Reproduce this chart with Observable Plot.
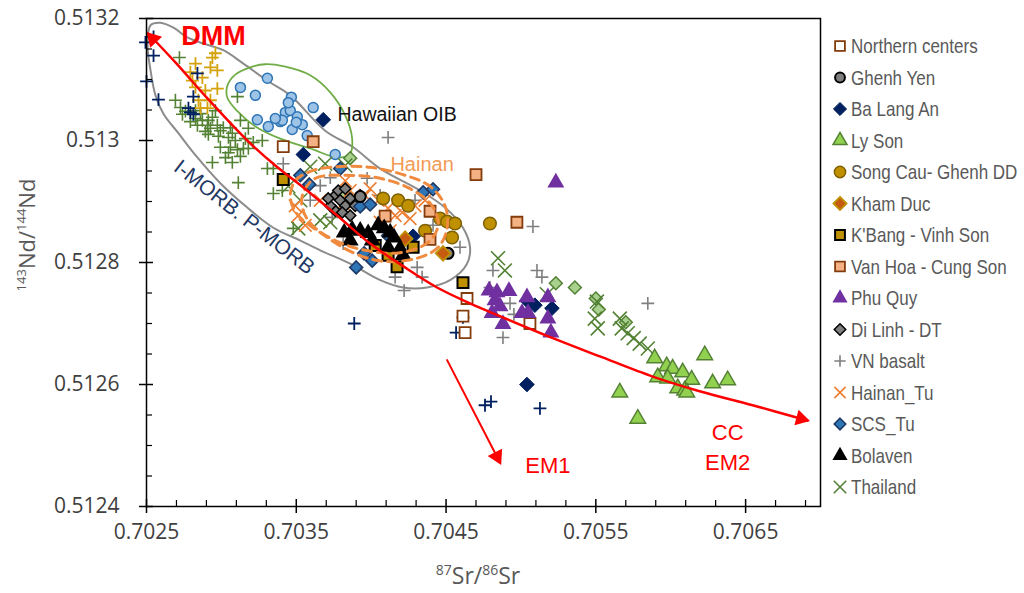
<!DOCTYPE html>
<html><head><meta charset="utf-8">
<script src="https://cdn.jsdelivr.net/npm/d3@7"></script>
<script src="https://cdn.jsdelivr.net/npm/@observablehq/plot@0.6"></script>
<style>body{margin:0;background:#fff}</style>
</head><body><div id="chart"></div>
<script>
// ---------- DATA ----------
const xTicks = [0.7025, 0.7035, 0.7045, 0.7055, 0.7065];
const yTicks = [0.5124, 0.5126, 0.5128, 0.5130, 0.5132];

// Unlabeled reference fields
const hawaiiSr = [0.703127,0.703307,0.703227,0.703467,0.703613,0.70324,0.703313,0.703393,0.703427,0.70346,0.703507,0.70354,0.703473,0.703573,0.70376,0.703407,0.70336,0.703447,0.7035];
const hawaiiNd = [0.513087,0.513102,0.513074,0.513071,0.513054,0.513034,0.513023,0.513031,0.513046,0.513049,0.513039,0.513026,0.513018,0.513008,0.512977,0.513033,0.513036,0.513062,0.51303];
const morbGoldSr = [0.70296,0.702827,0.702927,0.702973,0.702793,0.702873,0.702827,0.702893,0.702973,0.702847,0.702927,0.70286,0.702907,0.702807,0.70294];
const morbGoldNd = [0.513143,0.513126,0.51312,0.513115,0.513112,0.513103,0.513087,0.513082,0.513085,0.513066,0.513066,0.513053,0.513053,0.513098,0.513136];
const morbNavySr = [0.702547,0.702493,0.702547,0.7025,0.70258,0.70284,0.702813,0.702793,0.702813,0.70278,0.703887,0.704613,0.704567,0.70476,0.7048,0.705127];
const morbNavyNd = [0.51317,0.513161,0.513139,0.513097,0.513067,0.51311,0.513072,0.513046,0.513043,0.513053,0.5127,0.51271,0.512685,0.512566,0.512572,0.512561];
const morbGreenSr = [0.70272,0.703107,0.702693,0.702727,0.70276,0.70274,0.702827,0.702793,0.702873,0.702913,0.70294,0.70284,0.702907,0.702973,0.703013,0.70306,0.703127,0.70318,0.702893,0.702927,0.702993,0.703073,0.702913,0.70298,0.703047,0.70316,0.703213,0.70306,0.703107,0.702993,0.703147,0.703047,0.703027,0.70294,0.703073,0.70318,0.703307,0.703347,0.703113,0.703347,0.703407,0.70348,0.70286,0.70296,0.702827,0.703093,0.703273,0.703127];
const morbGreenNd = [0.513136,0.513072,0.513066,0.513054,0.513048,0.513043,0.513036,0.513031,0.513033,0.513033,0.513038,0.513025,0.513025,0.513025,0.513021,0.513021,0.513033,0.51302,0.513015,0.51302,0.513016,0.513012,0.51301,0.513007,0.513005,0.513003,0.512997,0.512989,0.512985,0.512989,0.512987,0.51298,0.512972,0.512964,0.512964,0.512987,0.512954,0.512954,0.512931,0.512913,0.512918,0.512856,0.513044,0.513049,0.513049,0.513,0.513,0.512974];
const lgDiamondSr = [0.703807,0.70386,0.705233,0.70536,0.7055,0.70552,0.7057];
const lgDiamondNd = [0.512915,0.512971,0.512766,0.512759,0.512741,0.512723,0.512702];

// Legend series
const legendNames = ["Northern centers","Ghenh Yen","Ba Lang An","Ly Son","Song Cau- Ghenh DD","Kham Duc","K'Bang - Vinh Son","Van Hoa - Cung Son","Phu Quy","Di Linh - DT","VN basalt","Hainan_Tu","SCS_Tu","Bolaven","Thailand"];
const northernSr = [0.703413,0.70464,0.704613,0.704627,0.70506];
const northernNd = [0.51299,0.512741,0.512712,0.512685,0.5127];
const ghenhYenSr = [0.704513,0.703927];
const ghenhYenNd = [0.512815,0.512908];
const baLangAnSr = [0.70368,0.703547,0.70504,0.705093,0.705207,0.70504,0.70428];
const baLangAnNd = [0.513034,0.512977,0.512738,0.51273,0.512725,0.5126,0.512843];
const lySonSr = [0.705893,0.705973,0.706013,0.70608,0.706227,0.705913,0.70598,0.70614,0.70628,0.70638,0.70566,0.706047,0.706093,0.706107,0.70578];
const lySonNd = [0.512643,0.51263,0.512626,0.51262,0.512648,0.512612,0.51261,0.512608,0.512602,0.512607,0.512587,0.512594,0.51259,0.512587,0.512544];
const songCauSr = [0.70408,0.70418,0.704247,0.70446,0.704507,0.70456,0.70454,0.704793,0.70436];
const songCauNd = [0.512905,0.512902,0.512893,0.512872,0.512867,0.512864,0.512841,0.512864,0.512852];
const khamDucSr = [0.70448,0.704227];
const khamDucNd = [0.512815,0.512839];
const kbangSr = [0.703413,0.70428,0.704113,0.704027,0.704173,0.704613];
const kbangNd = [0.512936,0.512825,0.512812,0.512828,0.512793,0.512767];
const vanHoaSr = [0.703613,0.7047,0.704973,0.704393,0.704393,0.704093];
const vanHoaNd = [0.512998,0.512944,0.512866,0.512884,0.512838,0.512876];
const phuQuySr = [0.705233,0.704787,0.70484,0.70492,0.704827,0.70486,0.704807,0.70488,0.70504,0.705047,0.70518,0.70518,0.7052,0.705007];
const phuQuyNd = [0.512931,0.512754,0.512751,0.512753,0.512738,0.512728,0.512717,0.512699,0.512743,0.512717,0.512743,0.512708,0.512685,0.512717];
const diLinhSr = [0.70376,0.703793,0.703827,0.70376,0.70386,0.703893,0.703807,0.703727,0.703927,0.70386,0.70378,0.703827,0.703713];
const diLinhNd = [0.51291,0.512902,0.512893,0.512885,0.512905,0.512893,0.512882,0.512893,0.51291,0.512877,0.512918,0.512921,0.512905];
const vnBasaltSr = [0.704113,0.703413,0.70366,0.70374,0.703973,0.704293,0.704413,0.704593,0.704307,0.70434,0.70422,0.70416,0.704813,0.704793,0.704927,0.704953,0.70488,0.70508,0.705107,0.70514,0.705847,0.703813,0.703727,0.703593,0.70406];
const vnBasaltNd = [0.513005,0.512962,0.512926,0.512874,0.512938,0.512902,0.512861,0.512825,0.512792,0.512776,0.512754,0.512776,0.512787,0.512759,0.512733,0.512715,0.512677,0.512859,0.512787,0.512776,0.512733,0.512831,0.512939,0.512902,0.51291];
const hainanSr = [0.703493,0.703513,0.70356,0.703827,0.70386,0.703993,0.704047,0.704113,0.70416,0.704207,0.70426,0.704293,0.704127,0.70406,0.70396,0.703813,0.70436,0.70366];
const hainanNd = [0.512893,0.512877,0.512861,0.512934,0.512918,0.512921,0.512902,0.512889,0.512877,0.512882,0.512872,0.512893,0.512852,0.512866,0.51291,0.512897,0.512902,0.512902];
const scsSr = [0.703587,0.703793,0.703927,0.703993,0.704347,0.704413,0.703953,0.704007,0.7039,0.704113,0.703527];
const scsNd = [0.512928,0.512954,0.512892,0.512895,0.512915,0.51292,0.512815,0.512803,0.512792,0.512844,0.512943];
const bolavenSr = [0.70382,0.703873,0.703927,0.70398,0.704047,0.704087,0.704127,0.704153,0.704193,0.704213,0.704113,0.704007,0.70386];
const bolavenNd = [0.512849,0.512854,0.512852,0.512848,0.512861,0.512856,0.512849,0.512841,0.512823,0.512812,0.512825,0.512836,0.512836];
const thailandSr = [0.703593,0.703693,0.703827,0.703527,0.70366,0.703513,0.703727,0.703447,0.704847,0.704893,0.705173,0.705493,0.705513,0.70566,0.705673,0.705713,0.705753,0.705793,0.705847,0.705507];
const thailandNd = [0.512957,0.512962,0.512959,0.512902,0.512869,0.512856,0.512866,0.512925,0.512807,0.512787,0.512748,0.512708,0.512692,0.512708,0.512692,0.512684,0.512676,0.512667,0.512659,0.512736];

// Field outlines & mixing curves
const morbFieldSr = [0.702527,0.702593,0.70268,0.702773,0.70288,0.703013,0.703147,0.703307,0.70346,0.703693,0.70388,0.70406,0.704327,0.704493,0.704613,0.70466,0.70464,0.704527,0.704373,0.704213,0.70406,0.70386,0.70366,0.703527,0.703347,0.703173,0.702993,0.702827,0.702713,0.702613,0.70256,0.702527,0.702507];
const morbFieldNd = [0.513189,0.513193,0.513185,0.513169,0.513159,0.513148,0.513126,0.513098,0.513074,0.513016,0.512989,0.512954,0.512918,0.51289,0.512857,0.512825,0.512798,0.512771,0.512759,0.512759,0.512771,0.512798,0.51282,0.512836,0.512857,0.51289,0.51293,0.512976,0.513012,0.513044,0.513074,0.513115,0.513156];
const oibFieldSr = [0.70304,0.703093,0.703193,0.703293,0.703427,0.703593,0.703727,0.703827,0.703873,0.70386,0.70378,0.703593,0.703393,0.703227,0.703107,0.70304];
const oibFieldNd = [0.51309,0.513108,0.51312,0.513125,0.513121,0.513107,0.513079,0.513041,0.513003,0.512979,0.512972,0.512987,0.513003,0.513023,0.513048,0.51307];
const hainanOuterSr = [0.70346,0.703493,0.703613,0.703773,0.703993,0.704213,0.704393,0.704493,0.704507,0.704447,0.704307,0.70408,0.70388,0.70366,0.703507];
const hainanOuterNd = [0.512907,0.512934,0.512951,0.512957,0.512956,0.512944,0.512925,0.512893,0.512856,0.512825,0.512807,0.512802,0.512816,0.512849,0.512879];
const hainanInnerSr = [0.703547,0.703627,0.703827,0.70406,0.70426,0.704407,0.704447,0.70438,0.704193,0.70396,0.70376,0.703607,0.70354];
const hainanInnerNd = [0.512915,0.512938,0.512943,0.512938,0.512921,0.512893,0.512861,0.512833,0.512816,0.51282,0.512836,0.512861,0.512889];
const mixSr = [0.702513,0.702693,0.702907,0.703173,0.70336,0.703547,0.703773,0.703993,0.704213,0.70444,0.70466,0.70486,0.705213,0.705527,0.70588,0.706193,0.706547,0.706913];
const mixNd = [0.513175,0.513128,0.513069,0.513,0.512959,0.512923,0.512877,0.512831,0.512794,0.512759,0.512733,0.512712,0.512676,0.512646,0.512613,0.512589,0.512566,0.512541];
const em1Sr = [0.704507, 0.70486];
const em1Nd = [0.51264, 0.512472];

const labels = [
  {x: 0.702947, y: 0.51317, text: "DMM", kind: "dmm"},
  {x: 0.704173, y: 0.513043, text: "Hawaiian OIB", kind: "oib"},
  {x: 0.70434, y: 0.512961, text: "Hainan", kind: "hainan"},
  {x: 0.703153, y: 0.512874, text: "I-MORB. P-MORB", kind: "morb"},
  {x: 0.70518, y: 0.512467, text: "EM1", kind: "em"},
  {x: 0.70638, y: 0.512521, text: "CC", kind: "em"},
  {x: 0.70638, y: 0.512471, text: "EM2", kind: "em"}
];

// ---------- BUILD ----------
const pts = (xs, ys) => d3.zip(xs, ys).map(([x, y]) => ({x, y}));
const SANS = "'Liberation Sans',Arial,sans-serif";

const styles = {
  "Northern centers": {symbol: "square", r: 6.2, fill: "#ffffff", stroke: "#843c0c", sw: 1.8},
  "Ghenh Yen": {symbol: "circle", r: 5.5, fill: "#7f7f7f", stroke: "#000000", sw: 2},
  "Ba Lang An": {symbol: "diamond2", r: 6.6, fill: "#002060", stroke: "#002060", sw: 1},
  "Ly Son": {symbol: "triangle", r: 5.8, fill: "#92d050", stroke: "#548235", sw: 1.5},
  "Song Cau- Ghenh DD": {symbol: "circle", r: 6.3, fill: "#bf9000", stroke: "#7f6000", sw: 1.5},
  "Kham Duc": {symbol: "diamond2", r: 6.6, fill: "#c55a11", stroke: "#bf9000", sw: 1.8},
  "K'Bang - Vinh Son": {symbol: "square", r: 6.2, fill: "#bf9000", stroke: "#000000", sw: 2},
  "Van Hoa - Cung Son": {symbol: "square", r: 6.2, fill: "#f4b183", stroke: "#843c0c", sw: 1.8},
  "Phu Quy": {symbol: "triangle", r: 6.3, fill: "#7030a0", stroke: "none", sw: 0},
  "Di Linh - DT": {symbol: "diamond2", r: 5.0, fill: "#7f7f7f", stroke: "#000000", sw: 1.5},
  "VN basalt": {symbol: "plus", r: 4.2, fill: "none", stroke: "#7f7f7f", sw: 1.6},
  "Hainan_Tu": {symbol: "times", r: 5.8, fill: "none", stroke: "#ed7d31", sw: 1.6},
  "SCS_Tu": {symbol: "diamond2", r: 5.8, fill: "#2e75b6", stroke: "#1f3864", sw: 1.6},
  "Bolaven": {symbol: "triangle", r: 6.3, fill: "#000000", stroke: "none", sw: 0},
  "Thailand": {symbol: "times", r: 6.4, fill: "none", stroke: "#548235", sw: 1.6}
};
const seriesData = {
  "Northern centers": pts(northernSr, northernNd),
  "Ghenh Yen": pts(ghenhYenSr, ghenhYenNd),
  "Ba Lang An": pts(baLangAnSr, baLangAnNd),
  "Ly Son": pts(lySonSr, lySonNd),
  "Song Cau- Ghenh DD": pts(songCauSr, songCauNd),
  "Kham Duc": pts(khamDucSr, khamDucNd),
  "K'Bang - Vinh Son": pts(kbangSr, kbangNd),
  "Van Hoa - Cung Son": pts(vanHoaSr, vanHoaNd),
  "Phu Quy": pts(phuQuySr, phuQuyNd),
  "Di Linh - DT": pts(diLinhSr, diLinhNd),
  "VN basalt": pts(vnBasaltSr, vnBasaltNd),
  "Hainan_Tu": pts(hainanSr, hainanNd),
  "SCS_Tu": pts(scsSr, scsNd),
  "Bolaven": pts(bolavenSr, bolavenNd),
  "Thailand": pts(thailandSr, thailandNd)
};
const dotMark = (data, s) => Plot.dot(data, {x: "x", y: "y", symbol: s.symbol, r: s.r, fill: s.fill, stroke: s.stroke, strokeWidth: s.sw});

const drawOrder = ["VN basalt","Thailand","Hainan_Tu","Di Linh - DT","Northern centers","SCS_Tu","Ba Lang An","Song Cau- Ghenh DD","Van Hoa - Cung Son","K'Bang - Vinh Son","Ghenh Yen","Kham Duc","Phu Quy","Ly Son","Bolaven"];

const fmt = d => String(+d.toFixed(4));
const xMinor = d3.range(0, 23).map(i => 0.7025 + i * 0.0002).filter((v, i) => i % 5 !== 0);
const yMinor = d3.range(0, 17).map(i => 0.5124 + i * 0.00005).filter((v, i) => i % 4 !== 0);

const marks = [
  Plot.line(pts(morbFieldSr, morbFieldNd), {x: "x", y: "y", curve: "catmull-rom-closed", stroke: "#8c8c8c", strokeWidth: 2}),
  Plot.line(pts(oibFieldSr, oibFieldNd), {x: "x", y: "y", curve: "catmull-rom-closed", stroke: "#70ad47", strokeWidth: 1.8}),
  Plot.dot(pts(morbGreenSr, morbGreenNd), {x: "x", y: "y", symbol: "plus", r: 4.2, stroke: "#548235", strokeWidth: 1.6}),
  Plot.dot(pts(morbGoldSr, morbGoldNd), {x: "x", y: "y", symbol: "plus", r: 4.2, stroke: "#d4a20c", strokeWidth: 1.8}),
  Plot.dot(pts(morbNavySr, morbNavyNd), {x: "x", y: "y", symbol: "plus", r: 4.2, stroke: "#002060", strokeWidth: 1.8}),
  Plot.dot(pts(hawaiiSr, hawaiiNd), {x: "x", y: "y", symbol: "circle", r: 5, fill: "#9dc3e6", stroke: "#2e75b6", strokeWidth: 1.5}),
  Plot.dot(pts(lgDiamondSr, lgDiamondNd), {x: "x", y: "y", symbol: "diamond2", r: 5.8, fill: "#a9d18e", stroke: "#548235", strokeWidth: 1.5}),
  ...drawOrder.map(n => dotMark(seriesData[n], styles[n])),
  Plot.line(pts(hainanOuterSr, hainanOuterNd), {x: "x", y: "y", curve: "catmull-rom-closed", stroke: "#f08a3e", strokeWidth: 3, strokeDasharray: "9,6"}),
  Plot.line(pts(hainanInnerSr, hainanInnerNd), {x: "x", y: "y", curve: "catmull-rom-closed", stroke: "#f08a3e", strokeWidth: 3, strokeDasharray: "9,6"}),
  Plot.line(pts(mixSr, mixNd), {x: "x", y: "y", curve: "catmull-rom", stroke: "#ff0000", strokeWidth: 2.5}),
  Plot.line(pts(em1Sr, em1Nd), {x: "x", y: "y", stroke: "#ff0000", strokeWidth: 2}),
  // arrow heads at the curve ends
  Plot.dot([pts(mixSr, mixNd)[0]], {x: "x", y: "y", symbol: "triangle", r: 6, fill: "#ff0000", rotate: -43, dx: 4.5, dy: 5}),
  Plot.dot([pts(mixSr, mixNd).at(-1)], {x: "x", y: "y", symbol: "triangle", r: 6, fill: "#ff0000", rotate: 105, dx: -6.5, dy: -1.8}),
  Plot.dot([pts(em1Sr, em1Nd)[1]], {x: "x", y: "y", symbol: "triangle", r: 6, fill: "#ff0000", rotate: 153, dx: -3, dy: -6}),
  // annotations
  Plot.text(labels.filter(d => d.kind === "dmm"), {x: "x", y: "y", text: "text", fill: "#ff0000", fontSize: 27, fontWeight: "bold", fontFamily: SANS}),
  Plot.text(labels.filter(d => d.kind === "oib"), {x: "x", y: "y", text: "text", fill: "#111111", fontSize: 19.5, fontFamily: SANS}),
  Plot.text(labels.filter(d => d.kind === "hainan"), {x: "x", y: "y", text: "text", fill: "#f39a55", fontSize: 20, fontFamily: SANS}),
  Plot.text(labels.filter(d => d.kind === "morb"), {x: "x", y: "y", text: "text", fill: "#1f3864", fontSize: 21, rotate: 38, fontFamily: SANS}),
  Plot.text(labels.filter(d => d.kind === "em"), {x: "x", y: "y", text: "text", fill: "#ff0000", fontSize: 22, fontFamily: SANS}),
  // frame & axes
  Plot.frame({stroke: "#000000", strokeWidth: 1.5}),
  Plot.tickX(xTicks, {x: d => d, insetTop: 481, stroke: "#000", strokeWidth: 1.5}),
  Plot.tickX(xMinor, {x: d => d, insetTop: 482, stroke: "#000", strokeWidth: 1.2}),
  Plot.tickY(yTicks, {y: d => d, insetRight: 667, stroke: "#000", strokeWidth: 1.5}),
  Plot.tickY(yMinor, {y: d => d, insetRight: 668, stroke: "#000", strokeWidth: 1.2}),
  Plot.axisX(xTicks, {tickSize: 7, tickPadding: 11, tickFormat: fmt, fontSize: 21, fill: "#404040", stroke: "#000", strokeWidth: 1.5, label: null}),
  Plot.axisY(yTicks, {tickSize: 7, tickPadding: 20, tickFormat: fmt, fontSize: 21, fill: "#404040", stroke: "#000", strokeWidth: 1.5, label: null})
];

const plot = Plot.plot({
  width: 1024, height: 593,
  marginLeft: 146, marginRight: 204, marginTop: 18, marginBottom: 87,
  x: {domain: [0.7025, 0.707], label: null},
  y: {domain: [0.5124, 0.5132], label: null},
  style: {fontFamily: "'Open Sans', sans-serif", background: "#ffffff", overflow: "visible"},
  marks
});
document.getElementById("chart").appendChild(plot);

// ---------- axis titles & legend ----------
const svg = d3.select(plot);
const xt = svg.append("text").attr("x", 478).attr("y", 584).attr("text-anchor", "middle")
  .attr("fill", "#595959").style("font-family", "'Open Sans',sans-serif").style("font-size", "23px");
xt.append("tspan").attr("dy", -9).style("font-size", "14px").text("87");
xt.append("tspan").attr("dy", 9).text("Sr/");
xt.append("tspan").attr("dy", -9).style("font-size", "14px").text("86");
xt.append("tspan").attr("dy", 9).text("Sr");

const yt = svg.append("text").attr("transform", "translate(35,235) rotate(-90)").attr("text-anchor", "middle")
  .attr("fill", "#595959").style("font-family", "'Open Sans',sans-serif").style("font-size", "22px");
yt.append("tspan").attr("dy", -9).style("font-size", "13px").text("143");
yt.append("tspan").attr("dy", 9).text("Nd/");
yt.append("tspan").attr("dy", -9).style("font-size", "13px").text("144");
yt.append("tspan").attr("dy", 9).text("Nd");

const symMap = {circle: d3.symbolCircle, square: d3.symbolSquare, diamond2: d3.symbolDiamond2, triangle: d3.symbolTriangle, plus: d3.symbolPlus, times: d3.symbolTimes};
const lg = svg.append("g");
legendNames.forEach((name, i) => {
  const s = styles[name];
  const y = 46 + i * 31.5;
  const rr = name === "Di Linh - DT" ? 5.8 : s.r;
  lg.append("path")
    .attr("d", d3.symbol(symMap[s.symbol], Math.PI * rr * rr * 0.8)())
    .attr("transform", `translate(840,${y})`)
    .attr("fill", s.fill).attr("stroke", s.stroke).attr("stroke-width", s.sw);
  lg.append("text").attr("transform", `translate(851,${y}) scale(0.83,1)`).attr("dy", "0.36em")
    .attr("text-anchor", "start")
    .attr("fill", "#595959").style("font-family", SANS).style("font-size", "20.5px").text(name);
});
</script>
</body></html>
